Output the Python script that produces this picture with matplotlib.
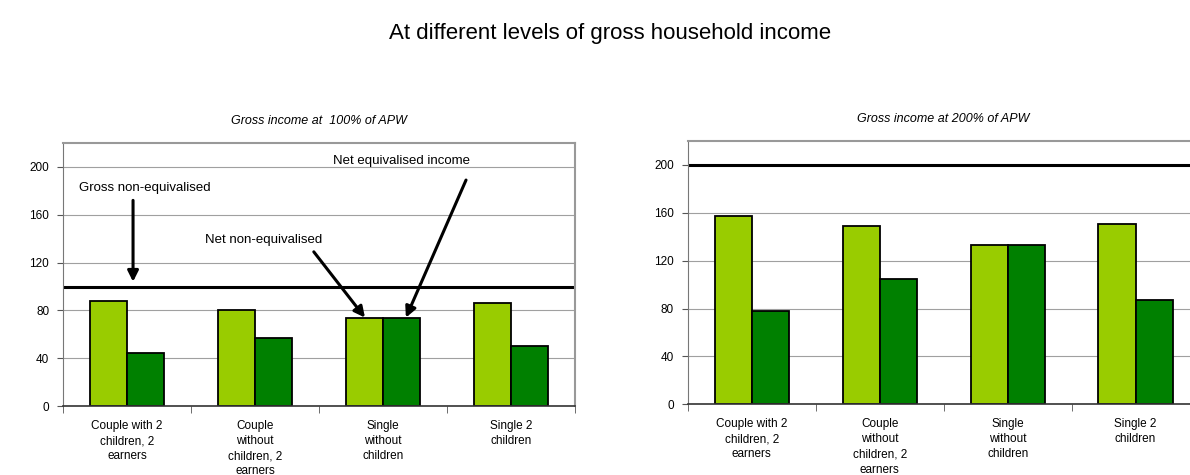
import matplotlib.pyplot as plt
import numpy as np

plt.rcParams['font.family'] = ['Liberation Sans', 'DejaVu Sans']

# data
categories = ['Couple with 2\nchildren, 2\nearners',
              'Couple\nwithout\nchildren, 2\nearners',
              'Single\nwithout\nchildren',
              'Single 2\nchildren']
gross_100 = 100
net_noneq_100 = [88, 80, 74, 86]
net_eq_100 = [44, 57, 74, 50]
gross_200 = 200
net_noneq_200 = [157, 149, 133, 151]
net_eq_200 = [78, 105, 133, 87]
yticks = [0, 40, 80, 120, 160, 200]

light = '#99CC00'
dark = '#008000'
bw = 0.29

fig = plt.figure(figsize=(11.9, 4.75), dpi=100)
fig.text(0.513, 0.93, 'At different levels of gross household income',
         ha='center', va='center', fontsize=16)

def panel(rect, light_vals, dark_vals, ref, title):
    ax = fig.add_axes(rect)
    x = np.arange(len(categories))
    ax.set_axisbelow(True)
    ax.yaxis.grid(True, color='#a0a0a0', lw=0.8)
    ax.bar(x - bw / 2, light_vals, bw, color=light, edgecolor='black', lw=1.3)
    ax.bar(x + bw / 2, dark_vals, bw, color=dark, edgecolor='black', lw=1.3)
    ax.axhline(ref, color='black', lw=2.2)
    ax.set_xlim(-0.5, len(categories) - 0.5)
    ax.set_ylim(0, 220)
    ax.set_yticks(yticks)
    ax.set_yticklabels([str(t) for t in yticks], fontsize=8.5)
    ax.set_xticks(x)
    ax.set_xticklabels(categories, fontsize=8.5, linespacing=1.35)
    ax.tick_params(axis='x', length=0, pad=10)
    ax.set_xticks(np.arange(len(categories) + 1) - 0.5, minor=True)
    ax.tick_params(axis='x', which='minor', length=5, color='#555555')
    ax.tick_params(axis='y', length=4, color='#555555', pad=6)
    for s in ['top', 'right']:
        ax.spines[s].set_color('#999999')
        ax.spines[s].set_linewidth(1.5)
    ax.spines['left'].set_color('#777777')
    ax.spines['bottom'].set_color('#333333')
    ax.spines['bottom'].set_linewidth(1.2)
    ax.set_title(title, fontsize=9, style='italic', pad=14)
    return ax

ax1 = panel([0.053, 0.145, 0.430, 0.554], net_noneq_100, net_eq_100, gross_100,
            'Gross income at  100% of APW')
ax2 = panel([0.578, 0.149, 0.430, 0.554], net_noneq_200, net_eq_200, gross_200,
            'Gross income at 200% of APW')

arrow = dict(arrowstyle='-|>', color='black', lw=2.2, mutation_scale=16,
             shrinkA=0, shrinkB=0)
ax1.text(-0.375, 182, 'Gross non-equivalised', fontsize=9.5, va='center')
ax1.annotate('', xy=(0.047, 104), xytext=(0.047, 172), arrowprops=arrow)
ax1.text(0.61, 139, 'Net non-equivalised', fontsize=9.5, va='center')
ax1.annotate('', xy=(1.86, 74), xytext=(1.46, 129), arrowprops=arrow)
ax1.text(1.61, 205, 'Net equivalised income', fontsize=9.5, va='center')
ax1.annotate('', xy=(2.18, 74), xytext=(2.65, 189), arrowprops=arrow)

plt.savefig('out.png', dpi=100)
